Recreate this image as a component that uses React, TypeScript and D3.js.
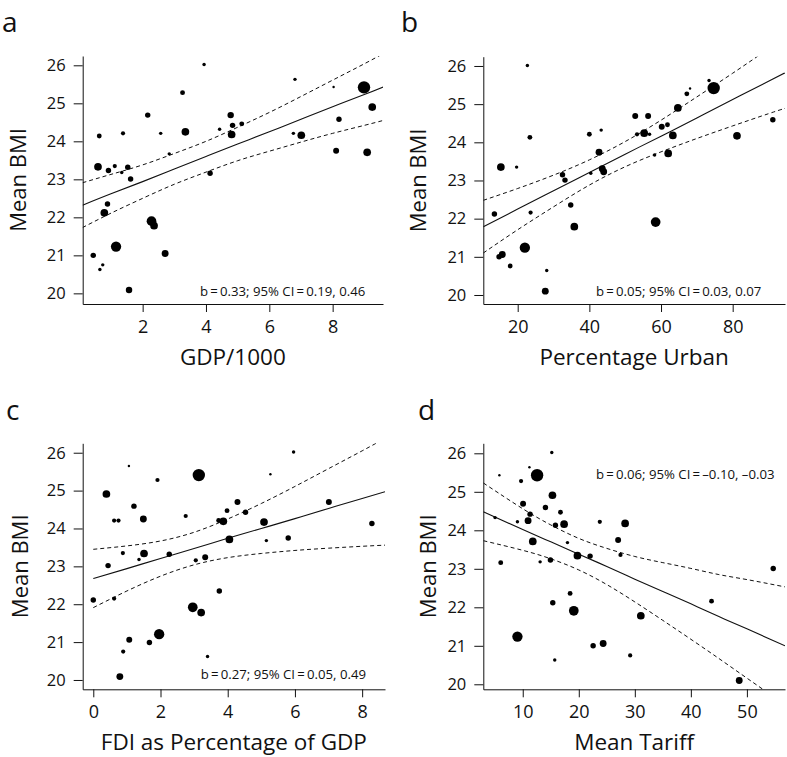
import { useRef, useEffect } from 'react';
import * as d3 from 'd3';

// a: GDP/1000
const gdpX = [0.44, 0.65, 0.74, 0.63, 0.59, 0.92, 1.12, 0.89, 0.79, 1.16, 1.34, 1.38, 1.53, 1.62, 1.57, 2.16, 2.28, 2.36, 2.57, 2.71, 2.84, 3.26, 3.35, 3.94, 4.13, 4.43, 4.78, 4.84, 4.81, 5.13, 6.81, 6.76, 7.01, 8.03, 8.2, 8.11, 8.99, 9.25, 9.09];
const gdpBmi = [21.0, 20.63, 20.75, 24.14, 23.33, 23.23, 23.35, 22.35, 22.12, 21.23, 23.18, 24.21, 23.32, 23.01, 20.09, 24.69, 21.9, 21.78, 24.21, 21.05, 23.67, 25.28, 24.25, 26.02, 23.16, 24.32, 24.69, 24.42, 24.18, 24.46, 25.63, 24.21, 24.16, 25.43, 24.58, 23.75, 25.42, 24.9, 23.71];
const gdpWeight = [5, 2, 2, 4, 10, 5, 3, 5, 10, 18, 2, 3, 5, 5, 7, 5, 16, 10, 2, 8, 2, 4, 10, 2, 5, 2, 7, 5, 10, 4, 2, 2, 10, 1, 5, 6, 26, 10, 10];
// [x, fit, lower 95%, upper 95%]
const gdpBand = [
  [0.1, 22.32, 21.73, 22.91], [1, 22.62, 22.11, 23.13], [2, 22.94, 22.5, 23.38], [3, 23.27, 22.87, 23.68],
  [4, 23.6, 23.19, 24.0], [5, 23.93, 23.49, 24.37], [6, 24.25, 23.74, 24.76], [7, 24.58, 23.98, 25.18],
  [8, 24.91, 24.21, 25.61], [9, 25.23, 24.42, 26.04], [9.6, 25.43, 24.55, 26.31],
];
const gdpTicks = [2, 4, 6, 8];

// b: Percentage Urban
const urbanX = [13.5, 14.8, 15.7, 15.3, 17.9, 19.7, 22.0, 22.7, 23.4, 23.6, 27.7, 28.1, 32.5, 33.2, 34.8, 35.8, 40.0, 40.4, 42.7, 43.3, 43.6, 44.0, 52.8, 53.3, 55.3, 56.4, 56.8, 58.2, 58.5, 60.2, 61.8, 63.3, 62.0, 64.7, 67.2, 68.1, 73.4, 74.7, 81.2, 91.2];
const urbanBmi = [22.12, 21.0, 21.06, 23.35, 20.76, 23.35, 21.24, 26.01, 24.13, 22.16, 20.1, 20.64, 23.15, 23.01, 22.36, 21.79, 24.21, 23.19, 23.74, 24.32, 23.31, 23.23, 24.69, 24.21, 24.24, 24.69, 24.21, 23.67, 21.91, 24.41, 24.46, 24.18, 23.71, 24.9, 25.27, 25.41, 25.62, 25.42, 24.17, 24.59];
const urbanWeight = [5, 5, 8, 10, 4, 2, 18, 2, 4, 3, 8, 2, 5, 5, 5, 10, 4, 2, 8, 2, 8, 8, 6, 3, 10, 6, 2, 2, 16, 6, 4, 10, 10, 10, 4, 1, 2, 26, 10, 5];
const urbanBand = [
  [10.4, 21.79, 21.1, 22.48], [20, 22.25, 21.71, 22.79], [30, 22.73, 22.31, 23.14], [40, 23.21, 22.88, 23.54],
  [50, 23.69, 23.36, 24.02], [60, 24.16, 23.75, 24.58], [70, 24.64, 24.1, 25.19], [80, 25.12, 24.43, 25.81],
  [90, 25.6, 24.75, 26.45], [94.6, 25.82, 24.89, 26.75],
];
const urbanTicks = [20, 40, 60, 80];

// c: FDI as Percentage of GDP
const fdiX = [0.0, 0.39, 0.44, 0.62, 0.62, 0.75, 0.79, 0.89, 0.88, 1.06, 1.07, 1.21, 1.36, 1.49, 1.51, 1.67, 1.91, 1.96, 2.26, 2.75, 2.96, 3.05, 3.14, 3.21, 3.33, 3.4, 3.73, 3.75, 3.87, 3.98, 4.05, 4.29, 4.53, 5.08, 5.15, 5.27, 5.8, 5.96, 7.01, 8.29];
const fdiBmi = [22.11, 24.91, 23.02, 22.15, 24.21, 24.21, 20.09, 20.75, 23.35, 25.65, 21.06, 24.59, 23.18, 24.25, 23.34, 20.99, 25.28, 21.21, 23.32, 24.33, 21.92, 23.16, 25.41, 21.78, 23.24, 20.62, 24.21, 22.35, 24.19, 24.47, 23.71, 24.7, 24.43, 24.17, 23.68, 25.43, 23.75, 26.02, 24.7, 24.13];
const fdiWeight = [5, 10, 5, 3, 3, 3, 8, 3, 3, 1, 6, 5, 2, 8, 10, 5, 3, 18, 5, 3, 16, 3, 26, 10, 6, 2, 4, 5, 10, 4, 10, 6, 5, 10, 2, 1, 5, 2, 6, 5];
const fdiBand = [
  [0, 22.68, 21.91, 23.45], [1, 22.94, 22.35, 23.54], [2, 23.21, 22.74, 23.67], [3, 23.47, 23.04, 23.9],
  [4, 23.74, 23.23, 24.25], [5, 24.0, 23.34, 24.66], [6, 24.26, 23.42, 25.11], [7, 24.53, 23.48, 25.58],
  [8, 24.79, 23.53, 26.05], [8.68, 24.97, 23.56, 26.38],
];
const fdiTicks = [0, 2, 4, 6, 8];

// d: Mean Tariff
const tariffX = [5.06, 5.83, 6.07, 9.05, 9.05, 9.7, 10.06, 11.19, 11.31, 10.95, 11.79, 12.56, 13.1, 14.05, 14.94, 15.18, 15.3, 15.36, 15.71, 15.83, 16.73, 17.38, 17.98, 18.45, 19.11, 19.76, 22.02, 22.56, 23.75, 24.35, 27.02, 27.44, 28.27, 29.17, 31.07, 43.69, 48.63, 54.7];
const tariffBmi = [24.33, 25.43, 23.16, 24.22, 21.24, 25.28, 24.69, 25.64, 24.42, 24.25, 23.71, 25.43, 23.18, 24.59, 23.23, 26.02, 24.91, 22.12, 20.63, 24.13, 24.47, 24.16, 23.68, 22.36, 21.91, 23.34, 23.33, 21.0, 24.22, 21.06, 23.75, 23.36, 24.18, 20.75, 21.78, 22.16, 20.1, 23.01];
const tariffWeight = [2, 1, 4, 2, 18, 3, 6, 1, 5, 8, 10, 26, 2, 5, 5, 2, 10, 5, 2, 5, 4, 10, 2, 4, 16, 10, 5, 5, 3, 8, 6, 3, 10, 3, 10, 4, 8, 5];
const tariffBand = [
  [2.96, 24.48, 23.73, 25.23], [10, 24.02, 23.48, 24.56], [15, 23.7, 23.26, 24.14], [20, 23.38, 22.97, 23.79],
  [25, 23.06, 22.59, 23.53], [30, 22.73, 22.14, 23.32], [35, 22.41, 21.66, 23.16], [40, 22.09, 21.17, 23.01],
  [45, 21.76, 20.67, 22.85], [50, 21.44, 20.16, 22.72], [56.8, 21.0, 19.47, 22.53],
];
const tariffTicks = [10, 20, 30, 40, 50];

const bmiTicks = [20, 21, 22, 23, 24, 25, 26];

const panels = [
  {
    letter: 'a', xs: gdpX, ys: gdpBmi, ws: gdpWeight, band: gdpBand, ticks: gdpTicks,
    title: 'GDP/1000', note: 'b\u2009=\u20090.33; 95% CI\u2009=\u20090.19, 0.46',
    left: 82.7, right: 383, top: 56, bottom: 304, xDomain: [0.107, 9.59], yDomain: [19.72, 26.245],
    letterX: 2, letterY: 32, yTitleX: 26, noteX: 200, noteY: 296,
  },
  {
    letter: 'b', xs: urbanX, ys: urbanBmi, ws: urbanWeight, band: urbanBand, ticks: urbanTicks,
    title: 'Percentage Urban', note: 'b\u2009=\u20090.05; 95% CI\u2009=\u20090.03, 0.07',
    left: 483.3, right: 785, top: 56.7, bottom: 304, xDomain: [10.4, 94.6], yDomain: [19.764, 26.243],
    letterX: 401, letterY: 32, yTitleX: 426, noteX: 596, noteY: 296,
  },
  {
    letter: 'c', xs: fdiX, ys: fdiBmi, ws: fdiWeight, band: fdiBand, ticks: fdiTicks,
    title: 'FDI as Percentage of GDP', note: 'b\u2009=\u20090.27; 95% CI\u2009=\u20090.05, 0.49',
    left: 82.7, right: 385, top: 443.3, bottom: 689.3, xDomain: [-0.315, 8.68], yDomain: [19.754, 26.249],
    letterX: 6, letterY: 420, yTitleX: 28, noteX: 200.7, noteY: 679.3,
  },
  {
    letter: 'd', xs: tariffX, ys: tariffBmi, ws: tariffWeight, band: tariffBand, ticks: tariffTicks,
    title: 'Mean Tariff', note: 'b\u2009=\u20090.06; 95% CI\u2009=\u2009\u20130.10, \u20130.03',
    left: 483.3, right: 785, top: 443.3, bottom: 689.3, xDomain: [2.96, 56.8], yDomain: [19.87, 26.26],
    letterX: 418, letterY: 420, yTitleX: 436, noteX: 596, noteY: 479,
  },
];

const FONT = '"Open Sans", "DejaVu Sans", sans-serif';
const INK = '#111';

export default function App() {
  const svgRef = useRef<SVGSVGElement>(null);

  useEffect(() => {
    const svg = d3.select(svgRef.current);
    svg.selectAll('*').remove();

    // dot radius from relative weight
    const r = d3.scaleSqrt().domain([0, 26]).range([0, 6.2]);
    const defs = svg.append('defs');

    panels.forEach((p) => {
      const x = d3.scaleLinear().domain(p.xDomain).range([p.left, p.right]);
      const y = d3.scaleLinear().domain(p.yDomain).range([p.bottom, p.top]);
      const g = svg.append('g');

      defs.append('clipPath').attr('id', 'clip-' + p.letter)
        .append('rect')
        .attr('x', p.left).attr('y', p.top)
        .attr('width', p.right - p.left).attr('height', p.bottom - p.top);

      // axes (L-shaped box)
      const xAxis = g.append('g')
        .attr('transform', `translate(0,${p.bottom})`)
        .call(d3.axisBottom(x).tickValues(p.ticks).tickSize(8).tickSizeOuter(0).tickPadding(8).tickFormat(d3.format('d')));
      xAxis.attr('font-size', 18).attr('font-family', FONT);

      const yAxis = g.append('g')
        .attr('transform', `translate(${p.left},0)`)
        .call(d3.axisLeft(y).tickValues(bmiTicks).tickSize(9).tickSizeOuter(0).tickPadding(8).tickFormat(d3.format('d')));
      yAxis.attr('font-size', 16.5).attr('font-family', FONT);

      g.selectAll('.domain, .tick line').attr('stroke', INK).attr('stroke-width', 1);
      g.selectAll('.tick text').attr('fill', INK);

      // regression line and 95% band
      const lineOf = (k: number) => d3.line<number[]>()
        .x(d => x(d[0]))
        .y(d => y(d[k]))
        .curve(d3.curveNatural);

      const lines = g.append('g').attr('clip-path', `url(#clip-${p.letter})`);
      lines.append('path').attr('d', lineOf(1)(p.band))
        .attr('fill', 'none').attr('stroke', INK).attr('stroke-width', 1.1);
      [2, 3].forEach(k => {
        lines.append('path').attr('d', lineOf(k)(p.band))
          .attr('fill', 'none').attr('stroke', INK).attr('stroke-width', 1)
          .attr('stroke-dasharray', '4,3');
      });

      // points
      g.append('g').selectAll('circle')
        .data(p.xs.map((v, i) => ({ x: v, y: p.ys[i], w: p.ws[i] })))
        .enter()
        .append('circle')
        .attr('cx', d => x(d.x))
        .attr('cy', d => y(d.y))
        .attr('r', d => r(d.w))
        .attr('fill', '#000');

      // texts
      g.append('text')
        .attr('x', (p.left + p.right) / 2).attr('y', p.bottom + 61)
        .attr('text-anchor', 'middle')
        .attr('font-family', FONT).attr('font-size', 22.5).attr('fill', INK)
        .text(p.title);

      g.append('text')
        .attr('transform', `translate(${p.yTitleX},${(p.top + p.bottom) / 2}) rotate(-90)`)
        .attr('text-anchor', 'middle')
        .attr('font-family', FONT).attr('font-size', 22).attr('fill', INK)
        .text('Mean BMI');

      g.append('text')
        .attr('x', p.noteX).attr('y', p.noteY)
        .attr('font-family', FONT).attr('font-size', 13.2).attr('fill', INK)
        .text(p.note);

      g.append('text')
        .attr('x', p.letterX).attr('y', p.letterY)
        .attr('font-family', FONT).attr('font-size', 28).attr('fill', INK)
        .text(p.letter);
    });
  }, []);

  return (
    <svg ref={svgRef} width={787} height={757}
      style={{ position: 'absolute', left: 0, top: 0, background: '#fff' }} />
  );
}
